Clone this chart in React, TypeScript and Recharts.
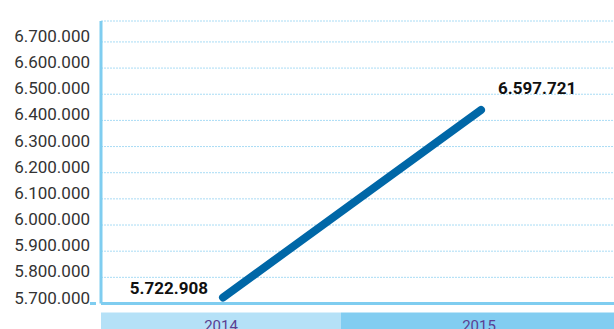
import React from 'react';
import { LineChart, Line, XAxis, YAxis, CartesianGrid, LabelList } from 'recharts';

const years = ['2014', '2015'];
// plotted positions as drawn in the picture; labels carry the printed figures
const visitors = [5722908, 6440000];
const valueLabels = ['5.722.908', '6.597.721'];
const yTicks = [5700000, 5800000, 5900000, 6000000, 6100000, 6200000, 6300000, 6400000, 6500000, 6600000, 6700000];
const bandColors = ['#b5e1f7', '#82cdf1'];

const data = years.map((year, i) => ({ year, value: visitors[i], label: valueLabels[i] }));

const formatThousands = (v: number) => v.toString().replace(/\B(?=(\d{3})+(?!\d))/g, '.');

const AXIS_BLUE = '#7fcdf0';

function YTick(props: any) {
  const { x, y, payload, index } = props;
  return (
    <g>
      {index === 0 && <line x1={x - 3} x2={x + 3} y1={y} y2={y} stroke={AXIS_BLUE} strokeWidth={3} />}
      <text x={x - 3} y={y - 6} textAnchor="end" dominantBaseline="central" fontSize={17} fill="#333" fontFamily="Roboto, sans-serif">
        {formatThousands(payload.value)}
      </text>
    </g>
  );
}

function XTick(props: any) {
  const { x, y, payload, index } = props;
  const left = index === 0 ? x - 122 : x - 140;
  const width = index === 0 ? 240 : 300;
  return (
    <g>
      <rect x={left} y={y + 1} width={width} height={30} fill={bandColors[index % bandColors.length]} />
      <text x={x - 2} y={y + 14} textAnchor="middle" dominantBaseline="central" fontSize={15} fill="#5b3f91" fontFamily="Roboto, sans-serif">
        {payload.value}
      </text>
    </g>
  );
}

function ValueLabel(props: any) {
  const { x, y, value, index } = props;
  const first = index === 0;
  return (
    <text
      x={first ? x - 15 : x + 17}
      y={first ? y - 10 : y - 22}
      textAnchor={first ? 'end' : 'start'}
      dominantBaseline="central"
      fontSize={17}
      fontWeight={700}
      fill="#111"
      fontFamily="Roboto, sans-serif"
    >
      {value}
    </text>
  );
}

export default function App() {
  return (
    <div style={{ position: 'absolute', left: 0, top: 0, background: '#fff' }}>
      <LineChart width={614} height={329} data={data} margin={{ top: 21, right: 0, bottom: 0, left: 0 }}>
        <CartesianGrid vertical={false} stroke="#a9dcf5" strokeDasharray="2 1" />
        <XAxis
          dataKey="year"
          scale="point"
          padding={{ left: 122, right: 133 }}
          height={25.5}
          axisLine={{ stroke: AXIS_BLUE, strokeWidth: 3 }}
          tickLine={false}
          tick={<XTick />}
          interval={0}
        />
        <YAxis
          width={101}
          domain={[5700000, 6780000]}
          ticks={yTicks}
          axisLine={{ stroke: AXIS_BLUE, strokeWidth: 3 }}
          tickLine={false}
          tick={<YTick />}
          interval={0}
        />
        <Line
          type="linear"
          dataKey="value"
          stroke="#0067a7"
          strokeWidth={8}
          strokeLinecap="round"
          dot={false}
          activeDot={false}
          isAnimationActive={false}
        >
          <LabelList dataKey="label" content={<ValueLabel />} />
        </Line>
      </LineChart>
    </div>
  );
}
